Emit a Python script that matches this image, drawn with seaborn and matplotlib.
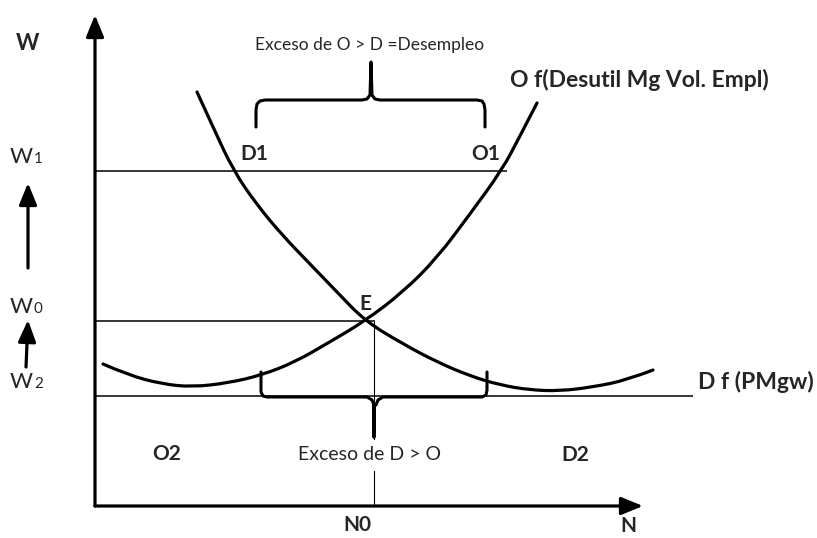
import matplotlib
matplotlib.use('Agg')
import matplotlib.pyplot as plt
from matplotlib.path import Path
from matplotlib.patches import PathPatch
import seaborn as sns

# Diagram coordinates: N to the right of the W axis, W above the N axis
# Supply curve O
o_n = [8, 33, 67, 97, 133, 167, 200, 233, 270, 308, 342, 375, 407, 425, 442]
o_w = [142, 131, 122, 119, 123, 131, 144, 163, 185, 214, 248, 292, 336, 370, 403]

# Demand curve D
d_n = [102, 118, 138, 162, 188, 215, 242, 270, 308, 342, 375, 405, 435, 465, 498, 532, 558]
d_w = [414, 379, 336, 301, 270, 242, 214, 185, 162, 144, 130, 121, 116, 115, 119, 126, 136]

# wage levels and equilibrium employment
w_levels = {'W1': 335, 'W0': 185, 'W2': 110}
w_line_end = {'W1': 412, 'W0': 280, 'W2': 598}
n0 = 279

# braces
top_brace_n = [161, 161, 162, 165, 170, 267, 272, 275, 276, 277, 280, 285, 382, 387, 389, 390, 390]
top_brace_w = [379, 396, 402, 405, 406, 406, 407, 411, 444, 411, 407, 406, 406, 405, 402, 396, 379]
bot_brace_n = [166, 166, 168, 172, 272, 277, 279, 279, 279, 281, 283, 288, 387, 391, 392, 392]
bot_brace_w = [134, 114, 110, 109, 109, 106, 101, 69, 101, 101, 106, 109, 109, 111, 116, 134]


def smooth_curve(ax, xs, ys, **kw):
    # quadratic bezier through midpoints so the hand-read points give a smooth stroke
    pts = list(zip(xs, ys))
    verts = [pts[0]]
    codes = [Path.MOVETO]
    for i in range(1, len(pts) - 1):
        if i < len(pts) - 2:
            end = ((pts[i][0] + pts[i + 1][0]) / 2, (pts[i][1] + pts[i + 1][1]) / 2)
        else:
            end = pts[-1]
        verts += [pts[i], end]
        codes += [Path.CURVE3, Path.CURVE3]
    ax.add_patch(PathPatch(Path(verts, codes), fill=False, **kw))


sns.set_theme(style='white')
plt.rcParams['font.family'] = ['Lato', 'DejaVu Sans']

fig = plt.figure(figsize=(8.17, 5.38), dpi=100)
ax = fig.add_axes([0, 0, 1, 1])
ax.set_xlim(-95, 722)
ax.set_ylim(-32, 506)
ax.axis('off')

# curves
smooth_curve(ax, o_n, o_w, edgecolor='black', linewidth=2.3, capstyle='round')
smooth_curve(ax, d_n, d_w, edgecolor='black', linewidth=2.3, capstyle='round')

# horizontal wage lines and N0 line
for k, w in w_levels.items():
    ax.hlines(w, 0, w_line_end[k], color='black', linewidth=1.1, zorder=1)
ax.vlines(n0, 0, w_levels['W0'], color='black', linewidth=0.8, zorder=1)

# braces
sns.lineplot(x=top_brace_n, y=top_brace_w, sort=False, estimator=None, color='black',
             linewidth=2.2, ax=ax)
sns.lineplot(x=bot_brace_n, y=bot_brace_w, sort=False, estimator=None, color='black',
             linewidth=2.2, ax=ax)
ax.set_xlim(-95, 722)
ax.set_ylim(-32, 506)

# axes with arrows
axis_arrow = dict(arrowstyle='-|>,head_length=1.1,head_width=0.45', lw=2.3, color='black',
                  shrinkA=0, shrinkB=0)
ax.annotate('', xy=(0, 491), xytext=(0, 0), arrowprops=axis_arrow)
ax.annotate('', xy=(548, 0), xytext=(0, 0), arrowprops=axis_arrow)

# arrows on the wage side
ax.annotate('', xy=(-67, 323), xytext=(-67, 238), arrowprops=axis_arrow)
ax.annotate('', xy=(-67, 186), xytext=(-69, 139), arrowprops=axis_arrow)

# labels
bold = dict(fontsize=15, fontweight='bold', ha='center', va='center')
ax.text(-68, 463, 'W', fontsize=16, fontweight='bold', ha='center', va='center')
ax.text(159, 352, 'D1', **bold)
ax.text(391, 352, 'O1', **bold)
ax.text(270, 202, 'E', **bold)
ax.text(72, 52, 'O2', **bold)
ax.text(480, 51, 'D2', **bold)
ax.text(262, -19, 'N0', **bold)
ax.text(533, -20, 'N', **bold)
ax.text(415, 426, 'O f(Desutil Mg Vol. Empl)', fontsize=16.5, fontweight='bold', ha='left', va='center')
ax.text(603, 124, 'D f (PMgw)', fontsize=16.5, fontweight='bold', ha='left', va='center')

for k, base in [('W1', 343), ('W0', 193), ('W2', 118)]:
    ax.text(-85, base, 'W', fontsize=16, ha='left', va='baseline')
    ax.text(-61, base, k[1], fontsize=11, ha='left', va='baseline')

ax.text(275, 461, 'Exceso de O > D =Desempleo', fontsize=12.5, ha='center', va='center')
ax.text(275, 51, 'Exceso de D > O', fontsize=14, ha='center', va='center',
        bbox=dict(facecolor='white', edgecolor='none', pad=5))

fig.savefig('out.png', dpi=100)
plt.close(fig)
